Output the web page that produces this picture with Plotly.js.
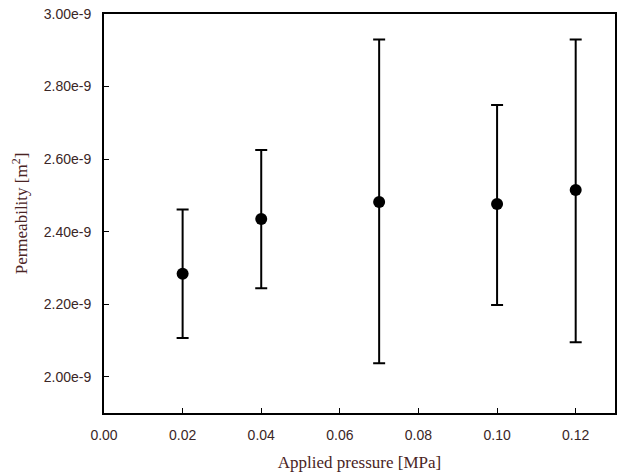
<!DOCTYPE html>
<html>
<head>
<meta charset="utf-8">
<script src="https://cdn.plot.ly/plotly-3.0.1.min.js"></script>
<style>
  html, body { margin: 0; padding: 0; background: #fff; }
  #chart { width: 621px; height: 476px; }
</style>
</head>
<body>
<div id="chart"></div>
<script>
// Applied pressure [MPa]
const pressure = [0.02, 0.04, 0.07, 0.10, 0.12];
// Mean permeability [m^2]
const permeability = [2.284e-9, 2.435e-9, 2.482e-9, 2.476e-9, 2.515e-9];
// Upper and lower ends of the error bars [m^2]
const upperBound = [2.461e-9, 2.625e-9, 2.930e-9, 2.749e-9, 2.930e-9];
const lowerBound = [2.107e-9, 2.244e-9, 2.037e-9, 2.198e-9, 2.095e-9];

// Axis tick positions and labels
const xTickVals = [0.00, 0.02, 0.04, 0.06, 0.08, 0.10, 0.12];
const xTickText = ['0.00', '0.02', '0.04', '0.06', '0.08', '0.10', '0.12'];
const yTickVals = [2.0e-9, 2.2e-9, 2.4e-9, 2.6e-9, 2.8e-9, 3.0e-9];
const yTickText = ['2.00e-9', '2.20e-9', '2.40e-9', '2.60e-9', '2.80e-9', '3.00e-9'];

const errPlus = upperBound.map((u, i) => u - permeability[i]);
const errMinus = lowerBound.map((l, i) => permeability[i] - l);

const trace = {
  x: pressure,
  y: permeability,
  type: 'scatter',
  mode: 'markers',
  marker: { color: '#000', size: 12, symbol: 'circle' },
  error_y: {
    type: 'data',
    symmetric: false,
    array: errPlus,
    arrayminus: errMinus,
    color: '#000',
    thickness: 2,
    width: 6
  },
  showlegend: false
};

const tickFont = { family: 'Liberation Sans, Arial, sans-serif', size: 14, color: '#3a2626' };
const titleFont = { family: 'Liberation Serif, Times New Roman, serif', size: 17, color: '#4a2424' };

const layout = {
  width: 621,
  height: 476,
  margin: { l: 104, r: 6, t: 14, b: 63 },
  paper_bgcolor: '#fff',
  plot_bgcolor: '#fff',
  xaxis: {
    range: [0, 0.13],
    tickmode: 'array',
    tickvals: xTickVals,
    ticktext: xTickText,
    ticks: 'inside',
    ticklen: 5,
    tickwidth: 1,
    tickcolor: '#000',
    ticklabelstandoff: 8,
    showgrid: false,
    zeroline: false,
    showline: true,
    linecolor: '#000',
    linewidth: 2,
    mirror: true,
    tickfont: tickFont,
    title: { text: 'Applied pressure [MPa]', font: titleFont, standoff: 14 }
  },
  yaxis: {
    range: [1.9e-9, 3.0e-9],
    tickmode: 'array',
    tickvals: yTickVals,
    ticktext: yTickText,
    ticks: 'inside',
    ticklen: 5,
    tickwidth: 1,
    tickcolor: '#000',
    ticklabelstandoff: 8,
    showgrid: false,
    zeroline: false,
    showline: true,
    linecolor: '#000',
    linewidth: 2,
    mirror: true,
    tickfont: tickFont,
    title: { text: 'Permeability [m<sup>2</sup>]', font: titleFont, standoff: 12 }
  }
};

Plotly.newPlot('chart', [trace], layout, { displayModeBar: false, staticPlot: true });
</script>
</body>
</html>
